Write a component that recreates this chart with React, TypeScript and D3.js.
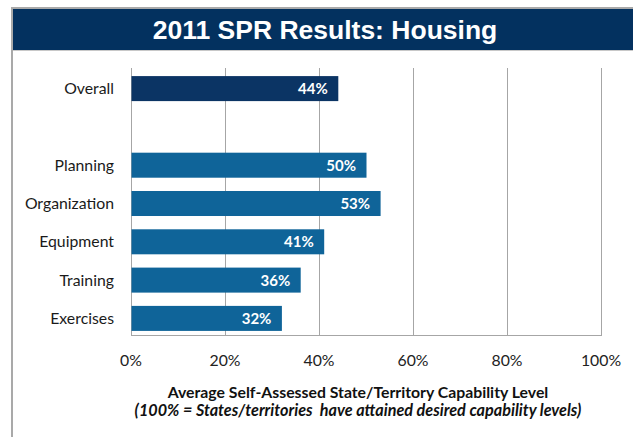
import React from "react";
import * as d3 from "d3";

// Capability areas (a blank spacer separates "Overall" from the rest)
const categories = ["Overall", "", "Planning", "Organization", "Equipment", "Training", "Exercises"];
const values: (number | null)[] = [44, null, 50, 53, 41, 36, 32];
const tickValues = [0, 20, 40, 60, 80, 100];
const title = "2011 SPR Results: Housing";
const axisTitle = "Average Self-Assessed State/Territory Capability Level";
const axisSubtitle = "(100% = States/territories  have attained desired capability levels)";

const W = 633;
const H = 437;
const plot = { left: 131, right: 601, top: 68, bottom: 335 };

const NAVY = "#03315f";
const BAR_DARK = "#0b3464";
const BAR = "#0f6499";
const GRID = "#a6a6a6";

export default function App() {
  const x = d3.scaleLinear().domain([0, 100]).range([plot.left, plot.right]);
  const y = d3
    .scaleBand<string>()
    .domain(categories.map((c, i) => `${i}`))
    .range([plot.top + 2, plot.bottom + 2])
    .paddingInner(0.347)
    .paddingOuter(0.159);

  const labelFont = "Lato, 'Open Sans', sans-serif";

  return (
    <svg
      width={W}
      height={H}
      style={{ position: "absolute", left: 0, top: 0, background: "#fff" }}
    >
      {/* slide frame */}
      <rect x={12} y={7} width={W - 12} height={2} fill="#a9a9a9" />
      <rect x={11} y={7} width={2} height={H - 7} fill="#a9a9a9" />
      <rect x={13} y={9} width={W - 13} height={41} fill={NAVY} />
      <line x1={13} x2={W} y1={50.5} y2={50.5} stroke="#c8c8c8" strokeWidth={1} />
      <text
        x={325}
        y={39}
        textAnchor="middle"
        fill="#fff"
        fontFamily="'Liberation Sans', Arial, sans-serif"
        fontWeight="bold"
        fontSize={26.5}
      >
        {title}
      </text>

      {/* vertical gridlines */}
      {tickValues.map((t) => (
        <line
          key={`g${t}`}
          x1={Math.round(x(t)) + 0.5}
          x2={Math.round(x(t)) + 0.5}
          y1={plot.top}
          y2={plot.bottom}
          stroke={GRID}
          strokeWidth={1}
        />
      ))}
      <line
        x1={plot.left}
        x2={plot.right + 1}
        y1={plot.bottom + 0.5}
        y2={plot.bottom + 0.5}
        stroke={GRID}
        strokeWidth={1}
      />

      {/* bars */}
      {categories.map((c, i) => {
        const v = values[i];
        if (v == null) return null;
        const yy = y(`${i}`)!;
        const bw = y.bandwidth();
        return (
          <g key={c}>
            <rect
              x={x(0) + 0.5}
              y={yy}
              width={x(v) - x(0)}
              height={bw}
              fill={i === 0 ? BAR_DARK : BAR}
            />
            <text
              x={x(v) - 10}
              y={yy + bw / 2 + 5.5}
              textAnchor="end"
              fill="#fff"
              fontFamily={labelFont}
              fontWeight="bold"
              fontSize={15}
            >
              {`${v}%`}
            </text>
          </g>
        );
      })}

      {/* category labels */}
      {categories.map((c, i) =>
        c ? (
          <text
            key={`l${i}`}
            x={114}
            y={y(`${i}`)! + y.bandwidth() / 2 + 5.5}
            textAnchor="end"
            fill="#1a1a1a"
            fontFamily={labelFont}
            fontSize={15.8}
          >
            {c}
          </text>
        ) : null
      )}

      {/* x tick labels */}
      {tickValues.map((t) => (
        <text
          key={`t${t}`}
          x={x(t)}
          y={366}
          textAnchor="middle"
          fill="#222"
          fontFamily={labelFont}
          fontSize={15.8}
        >
          {`${t}%`}
        </text>
      ))}

      {/* axis title */}
      <text
        x={358}
        y={398}
        textAnchor="middle"
        fill="#111"
        fontFamily={labelFont}
        fontWeight="bold"
        fontSize={15.8}
      >
        {axisTitle}
      </text>
      <text
        x={358}
        y={416}
        textAnchor="middle"
        fill="#111"
        fontFamily={labelFont}
        fontWeight="bold"
        fontStyle="italic"
        fontSize={16.2}
        style={{ whiteSpace: "pre" }}
      >
        {axisSubtitle}
      </text>
    </svg>
  );
}
